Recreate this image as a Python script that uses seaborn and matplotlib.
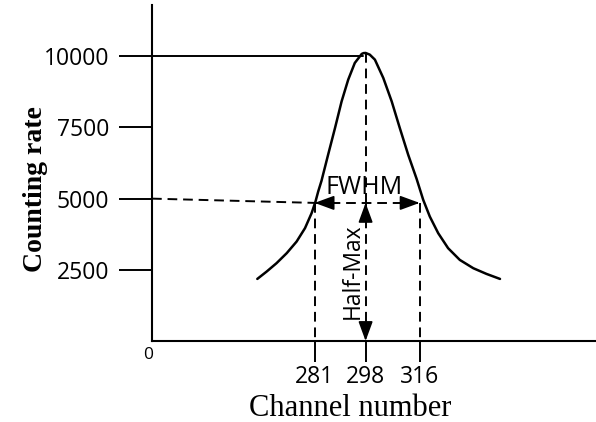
import matplotlib
matplotlib.use("Agg")
import matplotlib.pyplot as plt
import pandas as pd
import seaborn as sns

# Peak curve
channel = [261.9, 265.0, 268.3, 271.7, 275.0, 277.8, 280.0, 281.3, 282.2, 283.3,
           285.5, 287.8, 290.0, 292.2, 294.4, 296.7, 297.3, 298.0, 299.4, 301.1,
           303.9, 306.7, 309.4, 312.2, 315.0, 317.2, 319.4, 322.2, 325.5, 329.4,
           333.9, 338.3, 342.8]
counts = [2180, 2437, 2732, 3084, 3492, 3963, 4490, 4898, 5250, 5626,
          6540, 7479, 8414, 9177, 9765, 10081, 10110, 10116, 10056, 9881,
          9237, 8414, 7479, 6540, 5696, 4958, 4371, 3787, 3260, 2848,
          2556, 2356, 2180]

y_ticks = [2500, 5000, 7500, 10000]
x_ticks = [281, 298, 316]
x_tick_labels = ["281", "298", "316"]
peak_channel = 298
peak_count = 10116
max_line = 10000
half_tick = 5000
half_level = 4850
left_half = 281
right_half = 316
x_lo, x_hi = 226.8, 374.8
y_lo, y_hi = 0, 11800

df = pd.DataFrame({"channel": channel, "counts": counts})

sns.set_style("white")
plt.rcParams["font.family"] = ["Open Sans", "DejaVu Sans"]
plt.rcParams["text.color"] = "black"
plt.rcParams["axes.labelcolor"] = "black"

fig = plt.figure(figsize=(5.96, 4.22), dpi=100)
ax = fig.add_axes([152 / 596, 81 / 422, 444 / 596, 336 / 422])

sns.lineplot(data=df, x="channel", y="counts", ax=ax, color="black",
             linewidth=1.8, estimator=None)

dash = dict(color="black", linewidth=1.4, linestyle=(0, (5, 3)))

# max line and peak drop
ax.plot([x_lo, peak_channel - 0.8], [max_line, max_line], color="black", linewidth=1.4)
ax.plot([peak_channel, peak_channel], [peak_count, half_level], **dash)

# half-max guides
ax.plot([x_lo, left_half], [half_tick, half_level], **dash)
ax.plot([left_half, right_half], [half_level, half_level], **dash)
ax.plot([left_half, left_half], [half_level, y_lo], **dash)
ax.plot([right_half, right_half], [half_level, y_lo], **dash)
ax.plot([peak_channel, peak_channel], [half_level, y_lo], **dash)

head = dict(arrowstyle="-|>,head_length=0.6,head_width=0.22", color="black",
            linewidth=1.2, mutation_scale=20, shrinkA=0, shrinkB=0)
# FWHM arrows
ax.annotate("", xy=(left_half, half_level), xytext=(left_half + 6.5, half_level), arrowprops=head)
ax.annotate("", xy=(right_half, half_level), xytext=(right_half - 6.5, half_level), arrowprops=head)
# Half-Max arrows
ax.annotate("", xy=(peak_channel, half_level), xytext=(peak_channel, half_level - 650), arrowprops=head)
ax.annotate("", xy=(peak_channel, y_lo), xytext=(peak_channel, y_lo + 650), arrowprops=head)

ax.text(peak_channel - 0.5, 5380, "FWHM", ha="center", va="center", fontsize=18)
ax.text(293.6, 2450, "Half-Max", ha="center", va="center",
        rotation=90, fontsize=16.5)

ax.set_xlim(x_lo, x_hi)
ax.set_ylim(y_lo, y_hi)
ax.set_yticks(y_ticks)
ax.set_xticks(x_ticks)
ax.set_xticklabels(x_tick_labels)

for side in ["top", "right"]:
    ax.spines[side].set_visible(False)
for side in ["left", "bottom"]:
    ax.spines[side].set_linewidth(1.5)
    ax.spines[side].set_color("black")

ax.tick_params(axis="y", direction="out", length=24, width=1.4, pad=7,
               labelsize=16.5, left=True, colors="black")
ax.tick_params(axis="x", direction="out", length=15, width=1.4, pad=2,
               labelsize=16.5, bottom=True, colors="black")

ax.annotate("0", xy=(x_lo, y_lo), xytext=(-3, -4), textcoords="offset points",
            ha="center", va="top", fontsize=12.5)

ax.set_xlabel("Channel number", fontsize=22, family="Liberation Serif", labelpad=4)
ax.xaxis.label.set_x(0.446)
ax.set_ylabel("Counting rate", fontsize=20, family="Liberation Serif",
              fontweight="bold", labelpad=-3)
ax.yaxis.label.set_y(0.451)

fig.savefig("out.png", dpi=100)
